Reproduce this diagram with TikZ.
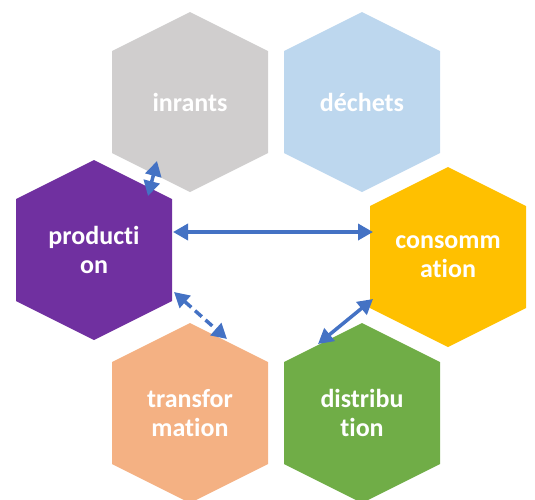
\documentclass[tikz,border=0pt]{standalone}
\usepackage{fontspec}
\newfontfamily\carlito{Carlito}[Ligatures={NoCommon}]
\usetikzlibrary{arrows.meta}
\definecolor{hgray}{HTML}{D0CECE}
\definecolor{hblue}{HTML}{BDD7EE}
\definecolor{hpurple}{HTML}{7030A0}
\definecolor{hgold}{HTML}{FFC000}
\definecolor{hpeach}{HTML}{F4B183}
\definecolor{hgreen}{HTML}{70AD47}
\definecolor{arrowblue}{HTML}{4472C4}
\newcommand\hexa[5]{%
  \fill[#4] (#2,#3-90) -- (#2+78,#3-51) -- (#2+78,#3+51) -- (#2,#3+90)
    -- (#2-78,#3+51) -- (#2-78,#3-51) -- cycle;
  \node[lab] (#1) at (#2,#3) {#5};}
\begin{document}
\begin{tikzpicture}[x=1pt,y=-1pt,
  lab/.style={text=white, font=\carlito\bfseries\fontsize{26}{29}\selectfont, align=center, inner sep=0pt},
  arr/.style={draw=arrowblue, line width=3.5pt,
    {Triangle[length=15pt,width=16pt]}-{Triangle[length=15pt,width=16pt]}},
  dasharr/.style={arr, dash pattern=on 9pt off 5pt}]
\clip (0,0) rectangle (535,499);
\useasboundingbox (0,0) rectangle (535,499);
\hexa{inrants}{190}{102}{hgray}{inrants}
\hexa{dechets}{362}{102}{hblue}{déchets}
\hexa{prod}{94}{250}{hpurple}{producti\\on}
\hexa{cons}{448}{257}{hgold}{consomm\\ation}
\hexa{trans}{190}{413}{hpeach}{transfor\\mation}
\hexa{dist}{362}{413}{hgreen}{distribu\\tion}
\coordinate (ip1) at (157,161);
\coordinate (ip2) at (148,196);
\coordinate (pc1) at (173,232);
\coordinate (pc2) at (373,232);
\coordinate (pt1) at (174,292);
\coordinate (pt2) at (227,339);
\coordinate (cd1) at (373,299);
\coordinate (cd2) at (318,344);
\draw[arr] (ip1) -- (ip2);
\draw[arr] (pc1) -- (pc2);
\draw[dasharr] (pt1) -- (pt2);
\draw[arr] (cd1) -- (cd2);
\end{tikzpicture}
\end{document}
